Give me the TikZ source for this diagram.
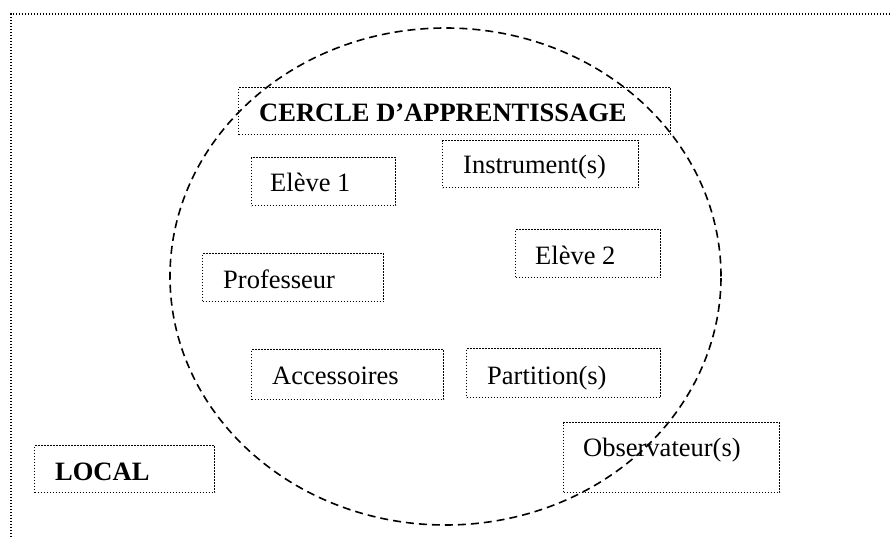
\documentclass[tikz,border=0pt]{standalone}
\usepackage{fontspec}
\setmainfont{Liberation Serif}
\usetikzlibrary{shapes.geometric}
\tikzset{
  dotline/.style={line width=1.4pt, dash pattern=on 1.4pt off 1.6pt},
  dotbox/.style={draw, dotline, rectangle, inner sep=0pt, anchor=north west},
  txt/.style={anchor=base west, inner sep=0pt, font=\fontsize{26.5}{31}\selectfont},
  btxt/.style={txt, font=\fontsize{26.5}{31}\selectfont\bfseries},
  circ/.style={draw, ellipse, line width=1.6pt, dash pattern=on 8pt off 5pt, inner sep=0pt}
}
\begin{document}
\begin{tikzpicture}[x=1pt, y=-1pt]
\useasboundingbox (0,0) rectangle (890,537);
% outer frame (only top and left sides visible)
\coordinate (fbl) at (11,537);
\coordinate (ftl) at (11,14);
\coordinate (ftr) at (890,14);
\draw[dotline] (fbl) -- (ftl) -- (ftr);
% boxes
\node[dotbox, minimum width=432pt, minimum height=47pt] (bcercle) at (238,87) {};
\node[dotbox, minimum width=196pt, minimum height=47pt] (binstr) at (442,140) {};
\node[dotbox, minimum width=144pt, minimum height=48pt] (beleve1) at (251,157) {};
\node[dotbox, minimum width=181pt, minimum height=48pt] (bprof) at (202,253) {};
\node[dotbox, minimum width=145pt, minimum height=48pt] (beleve2) at (515,229) {};
\node[dotbox, minimum width=192pt, minimum height=50pt] (bacc) at (251,349) {};
\node[dotbox, minimum width=194pt, minimum height=49pt] (bpart) at (466,348) {};
\node[dotbox, minimum width=216pt, minimum height=70pt] (bobs) at (563,422) {};
\node[dotbox, minimum width=180pt, minimum height=47pt] (blocal) at (34,445) {};
% texts
\node[btxt] (tcercle) at (259,122) {CERCLE D’APPRENTISSAGE};
\node[txt] (tinstr) at (463,174) {Instrument(s)};
\node[txt] (televe1) at (270,192) {Elève 1};
\node[txt] (tprof) at (223,288) {Professeur};
\node[txt] (televe2) at (535,264) {Elève 2};
\node[txt] (tacc) at (272,384) {Accessoires};
\node[txt] (tpart) at (487,384) {Partition(s)};
\node[txt] (tobs) at (583,456) {Observateur(s)};
\node[btxt] (tlocal) at (55,480) {LOCAL};
% dashed circle
\node[circ, minimum width=551pt, minimum height=497pt] (cercle) at (445.5,276.5) {};
\end{tikzpicture}
\end{document}
